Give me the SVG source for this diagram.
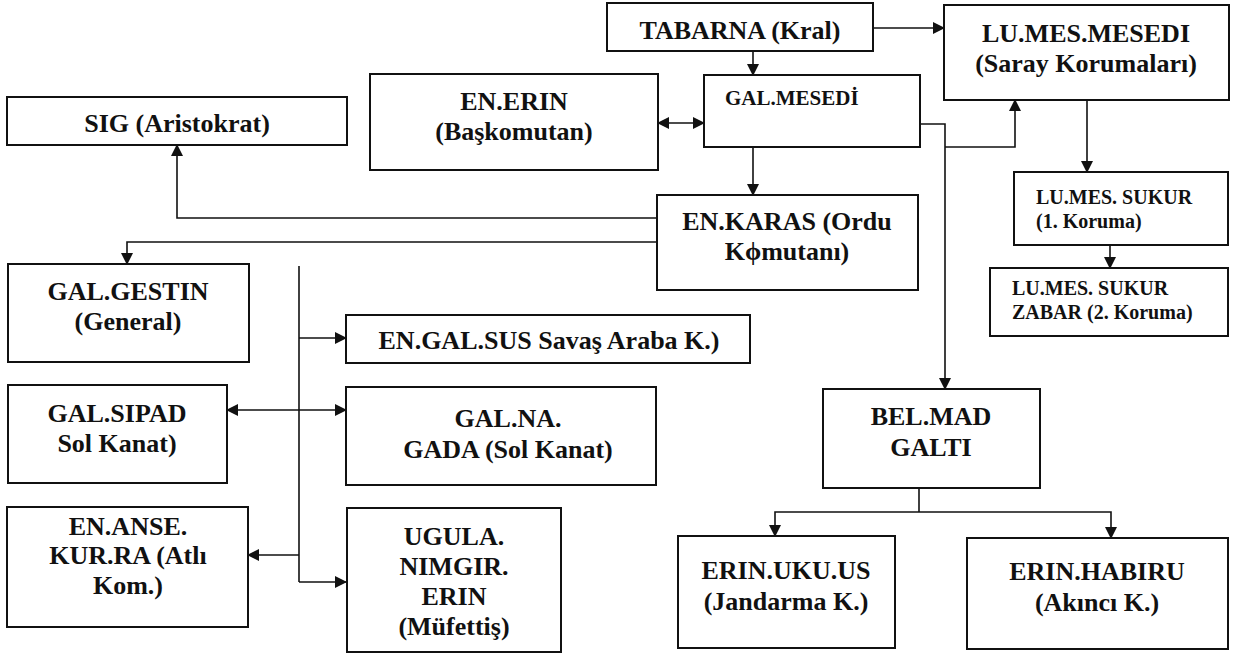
<svg xmlns="http://www.w3.org/2000/svg" width="1240" height="657" viewBox="0 0 1240 657" font-family="'Liberation Serif', 'DejaVu Serif', serif">
<style>
.box{fill:#fff;stroke:#111;stroke-width:2}
text{font-family:"Liberation Serif","DejaVu Serif",serif;font-weight:700;fill:#111;font-size:26px}
.c{text-anchor:middle}
.s{font-size:20px}
.m{font-size:21px}
.con{fill:none;stroke:#111;stroke-width:1.6}
.a{marker-end:url(#ah)}
.b{marker-start:url(#ah);marker-end:url(#ah)}
</style>
<defs>
<marker id="ah" markerUnits="userSpaceOnUse" markerWidth="12" markerHeight="12" refX="11" refY="6" orient="auto-start-reverse" viewBox="0 0 12 12">
<path d="M0,0 L12,6 L0,12 z" fill="#111"/>
</marker>
</defs>
<rect width="1240" height="657" fill="#fff"/>
<g id="connectors">
<path class="con a" d="M753,51 V75"/>
<path class="con a" d="M873,28 H944"/>
<path class="con b" d="M658,123 H704"/>
<path class="con a" d="M753,147 V195"/>
<path class="con a" d="M920,124 H945 V389"/>
<path class="con a" d="M945,147 H1015 V100"/>
<path class="con a" d="M1087,100 V172"/>
<path class="con a" d="M1110,245 V268"/>
<path class="con a" d="M657,218 H177 V145"/>
<path class="con a" d="M657,242 H127 V264"/>
<path class="con" d="M299,266 V582"/>
<path class="con a" d="M299,338 H346"/>
<path class="con a" d="M299,555 H248"/>
<path class="con a" d="M299,582 H346"/>
<path class="con b" d="M227,410 H346"/>
<path class="con" d="M919,488 V512"/>
<path class="con a" d="M919,512 H775 V536"/>
<path class="con a" d="M919,512 H1111 V538"/>
</g>
<g id="tabarna">
<rect class="box" x="607" y="3" width="266" height="48"/>
<text class="c" x="740" y="39">TABARNA (Kral)</text>
</g>
<g id="lumesmesedi">
<rect class="box" x="944" y="5" width="285" height="95"/>
<text class="c" x="1086" y="42">LU.MES.MESEDI</text>
<text class="c" x="1086" y="72">(Saray Korumaları)</text>
</g>
<g id="galmesedi">
<rect class="box" x="704" y="75" width="216" height="72"/>
<text class="m" x="725" y="105">GAL.MESEDİ</text>
</g>
<g id="enerin">
<rect class="box" x="370" y="74" width="288" height="96"/>
<text class="c" x="514" y="110">EN.ERIN</text>
<text class="c" x="514" y="140">(Başkomutan)</text>
</g>
<g id="sig">
<rect class="box" x="7" y="97" width="340" height="48"/>
<text class="c" x="177" y="132">SIG (Aristokrat)</text>
</g>
<g id="enkaras">
<rect class="box" x="657" y="195" width="261" height="95"/>
<text class="c" x="787" y="230">EN.KARAS (Ordu</text>
<text class="c" x="787" y="260">Kϕmutanı)</text>
</g>
<g id="lumessukur">
<rect class="box" x="1014" y="172" width="214" height="73"/>
<text class="s" x="1036" y="204">LU.MES. SUKUR</text>
<text class="s" x="1036" y="228">(1. Koruma)</text>
</g>
<g id="zabar">
<rect class="box" x="990" y="268" width="238" height="68"/>
<text class="s" x="1012" y="295">LU.MES. SUKUR</text>
<text class="s" x="1012" y="319">ZABAR (2. Koruma)</text>
</g>
<g id="galgestin">
<rect class="box" x="8" y="264" width="241" height="98"/>
<text class="c" x="128" y="300">GAL.GESTIN</text>
<text class="c" x="128" y="330">(General)</text>
</g>
<g id="engalsus">
<rect class="box" x="346" y="315" width="404" height="48"/>
<text class="c" x="549" y="349">EN.GAL.SUS Savaş Araba K.)</text>
</g>
<g id="galsipad">
<rect class="box" x="8" y="385" width="219" height="98"/>
<text class="c" x="117" y="422">GAL.SIPAD</text>
<text class="c" x="117" y="452">Sol Kanat)</text>
</g>
<g id="galnagada">
<rect class="box" x="346" y="387" width="310" height="98"/>
<text class="c" x="508" y="427">GAL.NA.</text>
<text class="c" x="508" y="458">GADA (Sol Kanat)</text>
</g>
<g id="enanse">
<rect class="box" x="7" y="507" width="241" height="120"/>
<text class="c" x="128" y="535">EN.ANSE.</text>
<text class="c" x="128" y="564">KUR.RA (Atlı</text>
<text class="c" x="128" y="594">Kom.)</text>
</g>
<g id="ugula">
<rect class="box" x="347" y="508" width="214" height="144"/>
<text class="c" x="454" y="545">UGULA.</text>
<text class="c" x="454" y="575">NIMGIR.</text>
<text class="c" x="454" y="605">ERIN</text>
<text class="c" x="454" y="635">(Müfettiş)</text>
</g>
<g id="belmad">
<rect class="box" x="823" y="389" width="217" height="99"/>
<text class="c" x="931" y="425">BEL.MAD</text>
<text class="c" x="931" y="456">GALTI</text>
</g>
<g id="erinukuus">
<rect class="box" x="678" y="536" width="217" height="112"/>
<text class="c" x="786" y="579">ERIN.UKU.US</text>
<text class="c" x="786" y="610">(Jandarma K.)</text>
</g>
<g id="erinhabiru">
<rect class="box" x="967" y="538" width="261" height="111"/>
<text class="c" x="1097" y="580">ERIN.HABIRU</text>
<text class="c" x="1097" y="611">(Akıncı K.)</text>
</g>
</svg>
